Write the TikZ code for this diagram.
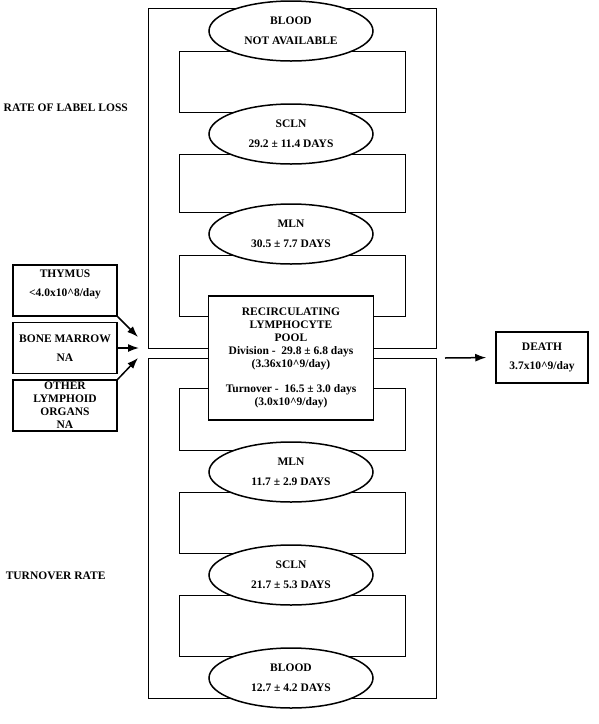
\documentclass[tikz,border=0pt]{standalone}
\usepackage{fontspec}
\setmainfont{Liberation Serif}
\usetikzlibrary{shapes.geometric,arrows.meta,backgrounds}

\begin{document}
\begin{tikzpicture}[x=1pt,y=-1pt,line width=1.5pt,
  font=\fontsize{11.5}{13}\selectfont\bfseries,
  site/.style={ellipse,draw,fill=white,minimum width=164pt,minimum height=60pt,inner sep=0pt,align=center},
  organ/.style={rectangle,draw,fill=white,minimum width=104pt,minimum height=51pt,inner sep=1pt,align=center},
  feed/.style={-{Latex[length=11pt,width=8pt]}}]
\useasboundingbox (0,0) rectangle (598,724);
% lymph node sites
\node[site] (blood1) at (291,31) {BLOOD\\[7pt]NOT AVAILABLE};
\node[site] (scln1) at (291,134) {SCLN\\[7pt]29.2 ± 11.4 DAYS};
\node[site] (mln1) at (291,234) {MLN\\[7pt]30.5 ± 7.7 DAYS};
\node[site] (mln2) at (291,472) {MLN\\[7pt]11.7 ± 2.9 DAYS};
\node[site] (scln2) at (291,575) {SCLN\\[7pt]21.7 ± 5.3 DAYS};
\node[site] (blood2) at (291,678) {BLOOD\\[7pt]12.7 ± 4.2 DAYS};
\node[draw,fill=white,minimum width=165pt,minimum height=124pt,inner sep=1pt,align=center] (pool) at (291,358)
  {RECIRCULATING\\LYMPHOCYTE\\POOL\\Division -\ \ 29.8 ± 6.8 days\\(3.36x10\textasciicircum9/day)\\[12pt]Turnover -\ \ 16.5 ± 3.0 days\\(3.0x10\textasciicircum9/day)};
% sources and sink
\node[organ] (thymus) at (65,290.5) {THYMUS\\[6pt]<4.0x10\textasciicircum8/day\\[2pt]};
\node[organ] (marrow) at (65,348) {BONE MARROW\\[6pt]NA};
\node[organ] (other) at (65,405.5) {OTHER\\LYMPHOID\\ORGANS\\NA};
\node[organ,minimum width=92pt] (death) at (542,357.5) {DEATH\\[6pt]3.7x10\textasciicircum9/day};
\node[anchor=west,inner sep=0pt] (lossrate) at (3,108) {RATE OF LABEL LOSS};
\node[anchor=west,inner sep=0pt] (turnrate) at (5,576) {TURNOVER RATE};
\coordinate (inT) at (138,337);
\coordinate (inM) at (139,348);
\coordinate (inO) at (138,358);
\coordinate (out) at (445,358);
\draw[feed] (thymus.south east) -- (inT);
\draw[feed] (marrow.east) -- (inM);
\draw[feed] (other.north east) -- (inO);
\draw[feed,shorten >=9pt] (out) -- (death.west);
% circulation loops
\begin{scope}[on background layer]
\draw ([xshift=-143pt,yshift=23pt]blood1.center) rectangle ([xshift=145pt,yshift=10pt]pool.center);
\draw ([xshift=-143pt]pool.center) rectangle ([xshift=145pt,yshift=-20pt]blood2.center);
\foreach \a/\b in {blood1/scln1,scln1/mln1,mln2/scln2,scln2/blood2}
  \draw ([xshift=-112pt,yshift=-20pt]\a.center) rectangle ([xshift=114pt,yshift=22pt]\b.center);
\draw ([xshift=-112pt,yshift=-21pt]mln1.center) rectangle ([xshift=114pt,yshift=42pt]pool.center);
\draw ([xshift=-112pt,yshift=-30pt]pool.center) rectangle ([xshift=114pt,yshift=22pt]mln2.center);
\end{scope}
\end{tikzpicture}
\end{document}
